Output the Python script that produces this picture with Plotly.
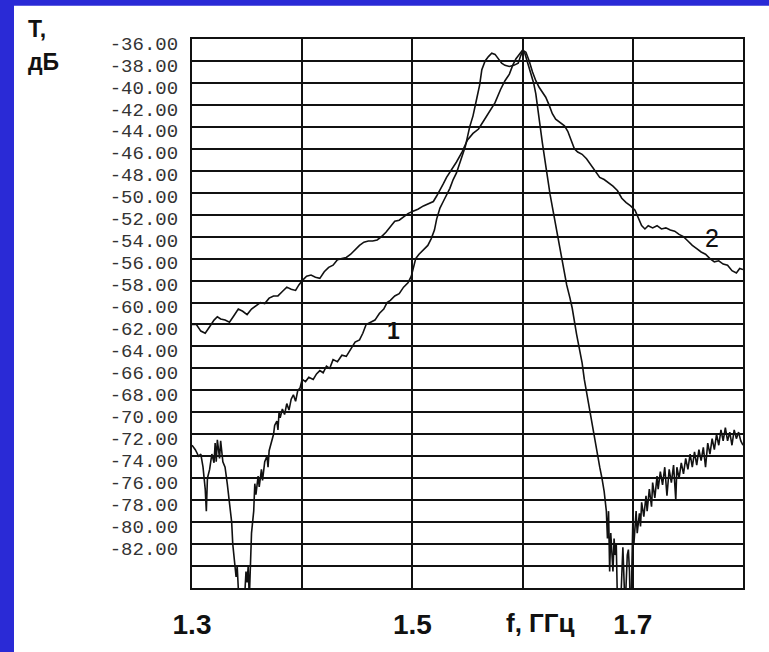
import plotly.graph_objects as go

# ---------------- data ----------------
curve1_f = [1.300, 1.303, 1.306, 1.308, 1.310, 1.312, 1.313, 1.314, 1.316, 1.318, 1.320, 1.321, 1.322, 1.323,
            1.325, 1.326, 1.328, 1.330, 1.332, 1.334, 1.336, 1.337, 1.339, 1.340, 1.341, 1.342, 1.344, 1.346,
            1.348, 1.349, 1.350, 1.351, 1.352, 1.353, 1.354, 1.356, 1.357, 1.358, 1.360, 1.361, 1.363, 1.364,
            1.366, 1.368, 1.369, 1.370, 1.372, 1.374, 1.375, 1.377, 1.378, 1.379, 1.380, 1.382, 1.384, 1.386,
            1.388, 1.390, 1.392, 1.394, 1.396, 1.398, 1.400, 1.403, 1.406, 1.410, 1.413, 1.416, 1.419, 1.422,
            1.425, 1.428, 1.432, 1.436, 1.440, 1.444, 1.448, 1.452, 1.455, 1.458, 1.462, 1.466, 1.470, 1.474,
            1.477, 1.480, 1.484, 1.488, 1.492, 1.496, 1.499, 1.501, 1.503, 1.506, 1.510, 1.514, 1.517, 1.520,
            1.522, 1.525, 1.528, 1.531, 1.534, 1.537, 1.540, 1.544, 1.548, 1.552, 1.555, 1.558, 1.561, 1.563,
            1.566, 1.569, 1.572, 1.575, 1.578, 1.581, 1.584, 1.588, 1.592, 1.596, 1.598, 1.600, 1.602, 1.604,
            1.607, 1.610, 1.612, 1.614, 1.616, 1.618, 1.620, 1.622, 1.625, 1.628, 1.631, 1.634, 1.636, 1.640,
            1.643, 1.645, 1.649, 1.652, 1.654, 1.656, 1.658, 1.661, 1.664, 1.666, 1.668, 1.670, 1.672, 1.674,
            1.676, 1.677, 1.678, 1.679, 1.680, 1.681, 1.682, 1.683, 1.684, 1.685, 1.686, 1.688, 1.690, 1.691,
            1.693, 1.695, 1.696, 1.697, 1.698, 1.699, 1.700, 1.701, 1.703, 1.704, 1.706, 1.707, 1.708, 1.710,
            1.712, 1.713, 1.715, 1.717, 1.718, 1.720, 1.722, 1.723, 1.725, 1.727, 1.729, 1.731, 1.733, 1.735,
            1.737, 1.739, 1.740, 1.742, 1.744, 1.746, 1.748, 1.750, 1.752, 1.754, 1.756, 1.758, 1.760, 1.762,
            1.764, 1.766, 1.768, 1.770, 1.772, 1.774, 1.776, 1.778, 1.780, 1.782, 1.784, 1.786, 1.788, 1.790,
            1.792, 1.794, 1.796, 1.798, 1.800]
curve1_db = [-73.0, -73.4, -74.0, -73.8, -75.0, -77.0, -79.0, -76.0, -75.2, -73.8, -74.6, -72.8, -74.5, -72.5,
             -74.2, -72.6, -74.5, -75.0, -76.5, -78.0, -80.0, -82.0, -84.0, -85.0, -84.0, -87.0, -90.0, -90.0,
             -86.0, -84.5, -85.5, -84.0, -87.0, -83.0, -81.0, -79.0, -76.5, -77.5, -75.8, -76.8, -75.2, -76.2,
             -74.5, -74.0, -75.0, -73.5, -72.6, -72.0, -71.2, -70.8, -71.6, -70.0, -70.5, -69.7, -70.2, -69.2,
             -69.8, -68.8, -68.4, -69.0, -68.0, -67.8, -67.0, -67.2, -66.8, -67.0, -66.5, -66.2, -66.4, -65.8,
             -66.0, -65.2, -65.4, -64.8, -64.9, -64.2, -63.6, -63.4, -62.8, -62.0, -61.8, -61.6, -61.0, -60.6,
             -60.0, -59.8, -59.4, -59.2, -58.6, -58.2, -57.6, -56.8, -56.0, -55.6, -55.2, -54.8, -54.2, -53.4,
             -52.4, -51.4, -50.8, -50.2, -49.6, -48.8, -48.2, -47.0, -45.8, -44.0, -43.0, -41.6, -40.2, -38.8,
             -38.0, -37.6, -37.3, -37.4, -37.8, -38.2, -38.4, -38.5, -38.4, -38.2, -37.6, -37.1, -37.3, -38.0,
             -39.0, -40.0, -41.0, -42.3, -44.0, -45.5, -47.0, -48.2, -50.2, -51.8, -53.7, -55.0, -56.0, -58.4,
             -59.6, -60.5, -62.9, -64.5, -65.5, -67.0, -68.2, -70.0, -71.8, -73.0, -73.9, -75.0, -76.0, -77.2,
             -79.0, -81.5, -79.0, -84.5, -81.0, -82.5, -84.5, -81.5, -83.0, -82.0, -87.0, -90.0, -84.0, -82.3,
             -88.0, -83.0, -82.5, -84.5, -90.0, -86.0, -80.0, -82.0, -79.0, -81.0, -79.2, -80.4, -78.2, -79.5,
             -77.6, -79.0, -77.0, -78.6, -76.4, -77.8, -75.8, -77.0, -75.4, -76.6, -75.0, -77.6, -75.2, -76.4,
             -74.8, -78.0, -75.0, -76.0, -74.6, -75.6, -74.2, -75.2, -73.8, -75.0, -73.6, -74.8, -73.4, -74.4,
             -73.2, -75.0, -72.8, -73.8, -72.4, -73.4, -72.0, -73.0, -71.6, -72.6, -71.4, -72.6, -71.8, -73.0,
             -71.6, -72.4, -71.8, -72.6, -73.0]

curve2_f = [1.300, 1.304, 1.308, 1.312, 1.316, 1.320, 1.323, 1.326, 1.330, 1.334, 1.338, 1.342, 1.346, 1.350,
            1.354, 1.358, 1.362, 1.366, 1.370, 1.374, 1.378, 1.382, 1.386, 1.390, 1.394, 1.397, 1.400, 1.404,
            1.408, 1.412, 1.416, 1.420, 1.424, 1.428, 1.432, 1.436, 1.440, 1.444, 1.448, 1.452, 1.456, 1.460,
            1.464, 1.468, 1.472, 1.476, 1.480, 1.484, 1.488, 1.492, 1.496, 1.500, 1.505, 1.510, 1.515, 1.519,
            1.522, 1.525, 1.528, 1.531, 1.535, 1.540, 1.545, 1.550, 1.555, 1.560, 1.565, 1.570, 1.575, 1.580,
            1.584, 1.588, 1.591, 1.594, 1.597, 1.600, 1.603, 1.606, 1.609, 1.612, 1.615, 1.618, 1.621, 1.624,
            1.627, 1.630, 1.634, 1.638, 1.641, 1.644, 1.647, 1.650, 1.654, 1.658, 1.662, 1.666, 1.670, 1.674,
            1.678, 1.682, 1.686, 1.690, 1.694, 1.698, 1.702, 1.705, 1.708, 1.711, 1.714, 1.718, 1.722, 1.726,
            1.730, 1.734, 1.738, 1.742, 1.746, 1.750, 1.754, 1.758, 1.762, 1.766, 1.770, 1.774, 1.778, 1.782,
            1.786, 1.790, 1.794, 1.797, 1.800]
curve2_db = [-62.0, -62.0, -62.6, -62.8, -62.2, -61.6, -61.3, -61.5, -61.6, -61.8, -61.2, -60.6, -60.8, -61.1,
             -60.6, -60.3, -60.0, -60.1, -59.6, -59.4, -59.4, -59.0, -58.6, -58.8, -58.9, -58.4, -58.0, -57.6,
             -57.5, -57.7, -57.8, -57.2, -56.8, -56.6, -56.1, -56.0, -55.9, -55.6, -55.2, -54.8, -54.5, -54.4,
             -54.4, -54.3, -54.0, -53.6, -53.1, -52.6, -52.5, -52.2, -51.9, -51.7, -51.5, -51.2, -51.0, -50.8,
             -50.3, -49.8, -49.2, -48.6, -48.0, -47.2, -46.3, -45.2, -44.6, -44.2, -43.4, -42.6, -41.8, -40.6,
             -39.8, -39.2, -38.4, -37.8, -37.4, -37.0, -37.2, -38.0, -39.0, -39.8, -40.4, -40.8, -41.3, -42.0,
             -42.8, -43.3, -43.6, -43.9, -44.4, -45.2, -46.0, -46.3, -46.5, -46.9, -47.5, -48.1, -48.6, -48.8,
             -49.1, -49.4, -49.8, -50.5, -50.9, -51.2, -51.6, -52.3, -53.0, -53.3, -53.0, -53.2, -53.0, -53.3,
             -53.2, -53.4, -53.5, -53.8, -54.0, -54.4, -54.8, -55.1, -55.4, -55.6, -56.0, -56.3, -56.2, -56.5,
             -56.6, -57.1, -57.3, -56.9, -57.0]

y_tick_values = [-36, -38, -40, -42, -44, -46, -48, -50, -52, -54, -56, -58, -60, -62, -64, -66, -68,
                 -70, -72, -74, -76, -78, -80, -82, -84, -86]
y_tick_labels = ["-36.00", "-38.00", "-40.00", "-42.00", "-44.00", "-46.00", "-48.00", "-50.00",
                 "-52.00", "-54.00", "-56.00", "-58.00", "-60.00", "-62.00", "-64.00", "-66.00",
                 "-68.00", "-70.00", "-72.00", "-74.00", "-76.00", "-78.00", "-80.00", "-82.00", "", ""]
x_tick_values = [1.3, 1.4, 1.5, 1.6, 1.7, 1.8]
x_tick_labels = ["1.3", "", "1.5", "", "1.7", ""]

# ---------------- geometry (page pixels; page body margin removed by post_script) ----------------
W, H = 769, 652
PLOT_L, PLOT_R, PLOT_T, PLOT_B = 192, 743, 39, 599   # plot frame in page pixels
L, T, R, B = PLOT_L, PLOT_T, W - PLOT_R, H - PLOT_B
pw, ph = W - L - R, H - T - B

def px_x(x):
    return (x - L) / pw

def px_y(y):
    return (H - B - y) / ph

fig = go.Figure()
line_style = dict(color="#111111", width=1.6)
fig.add_trace(go.Scatter(x=curve1_f, y=curve1_db, mode="lines", line=line_style, name="1"))
fig.add_trace(go.Scatter(x=curve2_f, y=curve2_db, mode="lines", line=line_style, name="2"))

fig.update_layout(
    width=W, height=H,
    margin=dict(l=L, r=R, t=T, b=B),
    paper_bgcolor="#2a2ad6",
    plot_bgcolor="white",
    showlegend=False,
    shapes=[dict(type="rect", xref="paper", yref="paper", layer="below",
                 x0=px_x(14), x1=px_x(W + 30), y0=px_y(H + 30), y1=px_y(5),
                 fillcolor="white", line=dict(width=0))],
    annotations=[
        dict(text="<b>Т,</b>", xref="paper", yref="paper", x=px_x(26), y=px_y(29),
             xanchor="left", yanchor="middle", showarrow=False,
             font=dict(family="Liberation Sans", size=23, color="#111")),
        dict(text="<b>дБ</b>", xref="paper", yref="paper", x=px_x(26), y=px_y(62),
             xanchor="left", yanchor="middle", showarrow=False,
             font=dict(family="Liberation Sans", size=23, color="#111")),
        dict(text="<b>f, ГГц</b>", xref="paper", yref="paper", x=px_x(540), y=px_y(635),
             xanchor="center", yanchor="middle", showarrow=False,
             font=dict(family="Liberation Sans", size=26, color="#111")),
        dict(text="<b>1</b>", xref="x", yref="y", x=1.4825, y=-62.6, showarrow=False,
             font=dict(family="Liberation Sans", size=23, color="#111")),
        dict(text="2", xref="x", yref="y", x=1.772, y=-54.1, showarrow=False,
             font=dict(family="Liberation Sans", size=25, color="#111")),
    ],
)

fig.update_xaxes(
    range=[1.3, 1.8], tickmode="array", tickvals=x_tick_values, ticktext=x_tick_labels,
    showgrid=True, gridcolor="#111", gridwidth=1.8, zeroline=False,
    showline=True, linecolor="#111", linewidth=2.2, mirror=True, ticks="",
    tickfont=dict(family="Liberation Sans", size=28, color="#111", weight="bold"),
    ticklabelstandoff=10,
)
fig.update_yaxes(
    range=[-86, -36], tickmode="array", tickvals=y_tick_values, ticktext=y_tick_labels,
    showgrid=True, gridcolor="#111", gridwidth=1.8, zeroline=False,
    showline=True, linecolor="#111", linewidth=2.2, mirror=True, ticks="",
    tickfont=dict(family="Liberation Mono", size=19, color="#333"),
    ticklabelshift=4, ticklabelstandoff=8,
)

fig.write_html("out.html", config={"displayModeBar": False},
               post_script="document.body.style.margin='0';")
